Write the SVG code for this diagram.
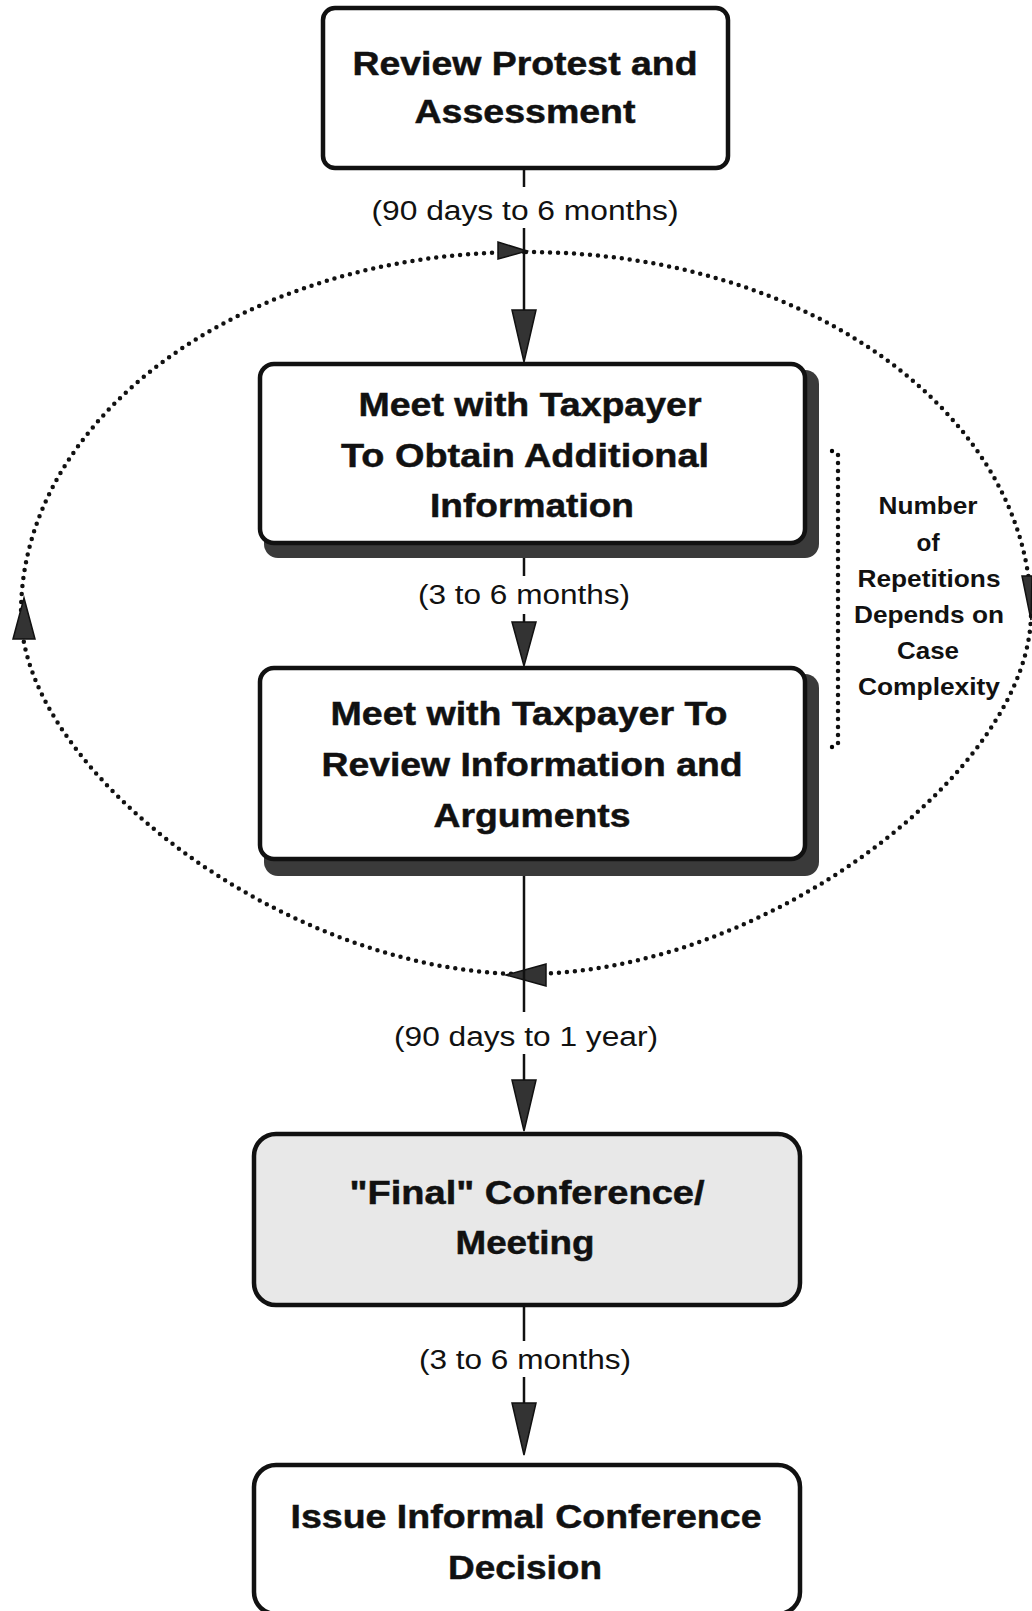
<svg xmlns="http://www.w3.org/2000/svg" width="1032" height="1611" viewBox="0 0 1032 1611">
<style>
.box{fill:#fff;stroke:#111;stroke-width:4.5}
.shadow{fill:#3a3a3a}
.t{font-family:"Liberation Sans",Arial,sans-serif;font-weight:bold;font-size:34px;fill:#111;stroke:#111;stroke-width:0.5;text-anchor:middle}
.lbl{font-family:"Liberation Sans",Arial,sans-serif;font-size:27px;fill:#111;text-anchor:middle}
.side{font-family:"Liberation Sans",Arial,sans-serif;font-weight:bold;font-size:24px;fill:#111;text-anchor:middle}
.ln{stroke:#111;stroke-width:2.5;fill:none}
.dots{stroke:#111;stroke-width:4.5;fill:none;stroke-linecap:round;stroke-dasharray:0 8}
.ah{fill:#333;stroke:#111;stroke-width:1.5}
</style>
<rect width="1032" height="1611" fill="#fff"/>
<g id="connectors">
<path class="dots" d="M 526 252 C 815 252 1031 420 1031 613 C 1031 770 765 974 526 974 C 287 974 21 770 21 613 C 21 420 237 252 526 252 Z"/>
<line class="dots" x1="838" y1="455" x2="838" y2="745"/>
<circle cx="832" cy="451" r="2.2"/>
<circle cx="832" cy="747" r="2.2"/>
<polygon class="ah" points="527,251 498,242 498,259"/>
<polygon class="ah" points="1031,620 1022,576 1032,576"/>
<polygon class="ah" points="506,975 546,964 546,986"/>
<polygon class="ah" points="24,598 13,639 35,639"/>
<line class="ln" x1="524" y1="168" x2="524" y2="187"/>
<line class="ln" x1="524" y1="228" x2="524" y2="312"/>
<polygon class="ah" points="524,362 512,310 536,310"/>
<line class="ln" x1="524" y1="558" x2="524" y2="576"/>
<line class="ln" x1="524" y1="614" x2="524" y2="624"/>
<polygon class="ah" points="524,666 512,622 536,622"/>
<line class="ln" x1="524" y1="876" x2="524" y2="1012"/>
<line class="ln" x1="524" y1="1054" x2="524" y2="1082"/>
<polygon class="ah" points="524,1131 512,1080 536,1080"/>
<line class="ln" x1="524" y1="1305" x2="524" y2="1341"/>
<line class="ln" x1="524" y1="1377" x2="524" y2="1405"/>
<polygon class="ah" points="524,1455 512,1403 536,1403"/>
<text class="lbl" x="525" y="220" textLength="307" lengthAdjust="spacingAndGlyphs">(90 days to 6 months)</text>
<text class="lbl" x="524" y="604" textLength="212" lengthAdjust="spacingAndGlyphs">(3 to 6 months)</text>
<text class="lbl" x="526" y="1046" textLength="264" lengthAdjust="spacingAndGlyphs">(90 days to 1 year)</text>
<text class="lbl" x="525" y="1369" textLength="212" lengthAdjust="spacingAndGlyphs">(3 to 6 months)</text>
</g>
<g id="node-review">
<rect class="box" x="323" y="8" width="405" height="160" rx="12"/>
<text class="t" x="525" y="75" textLength="345" lengthAdjust="spacingAndGlyphs">Review Protest and</text>
<text class="t" x="525" y="123" textLength="221" lengthAdjust="spacingAndGlyphs">Assessment</text>
</g>
<g id="node-meet1">
<rect class="shadow" x="264" y="370" width="555" height="188" rx="14"/>
<rect class="box" x="260" y="364" width="545" height="179" rx="14"/>
<text class="t" x="530" y="416" textLength="343" lengthAdjust="spacingAndGlyphs">Meet with Taxpayer</text>
<text class="t" x="525" y="467" textLength="368" lengthAdjust="spacingAndGlyphs">To Obtain Additional</text>
<text class="t" x="532" y="517" textLength="204" lengthAdjust="spacingAndGlyphs">Information</text>
</g>
<g id="node-meet2">
<rect class="shadow" x="264" y="674" width="555" height="202" rx="14"/>
<rect class="box" x="260" y="668" width="545" height="191" rx="14"/>
<text class="t" x="529" y="725" textLength="397" lengthAdjust="spacingAndGlyphs">Meet with Taxpayer To</text>
<text class="t" x="532" y="776" textLength="421" lengthAdjust="spacingAndGlyphs">Review Information and</text>
<text class="t" x="532" y="827" textLength="197" lengthAdjust="spacingAndGlyphs">Arguments</text>
</g>
<g id="node-final">
<rect class="box" x="254" y="1134" width="546" height="171" rx="22" style="fill:#e8e8e8"/>
<text class="t" x="527" y="1204" textLength="355" lengthAdjust="spacingAndGlyphs">"Final" Conference/</text>
<text class="t" x="525" y="1254" textLength="139" lengthAdjust="spacingAndGlyphs">Meeting</text>
</g>
<g id="node-issue">
<rect class="box" x="254" y="1465" width="546" height="149" rx="22"/>
<text class="t" x="526" y="1528" textLength="471" lengthAdjust="spacingAndGlyphs">Issue Informal Conference</text>
<text class="t" x="525" y="1579" textLength="154" lengthAdjust="spacingAndGlyphs">Decision</text>
</g>
<g id="note">
<text class="side" x="928" y="514" textLength="99" lengthAdjust="spacingAndGlyphs">Number</text>
<text class="side" x="928" y="551" textLength="23" lengthAdjust="spacingAndGlyphs">of</text>
<text class="side" x="929" y="587" textLength="143" lengthAdjust="spacingAndGlyphs">Repetitions</text>
<text class="side" x="929" y="623" textLength="150" lengthAdjust="spacingAndGlyphs">Depends on</text>
<text class="side" x="928" y="659" textLength="62" lengthAdjust="spacingAndGlyphs">Case</text>
<text class="side" x="929" y="695" textLength="142" lengthAdjust="spacingAndGlyphs">Complexity</text>
</g>
</svg>
